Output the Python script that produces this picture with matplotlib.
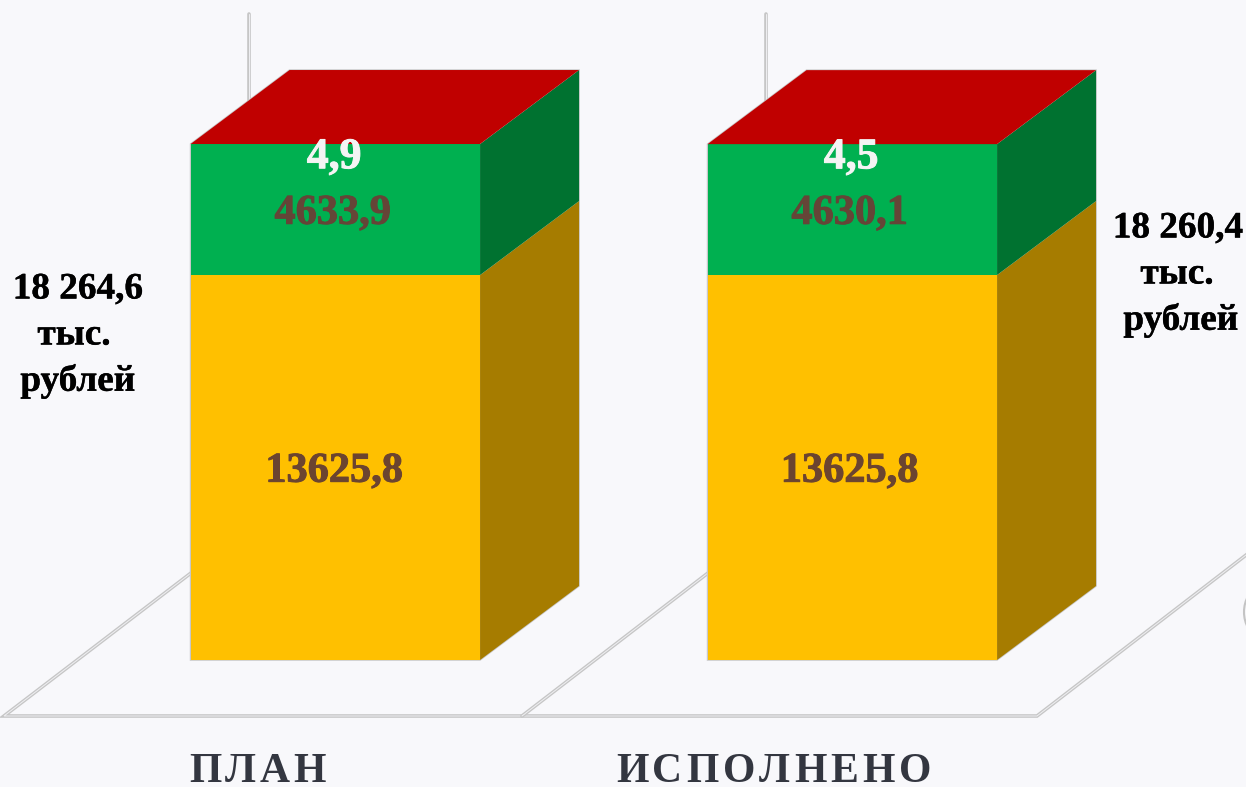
import matplotlib
matplotlib.use("Agg")
import matplotlib.pyplot as plt
import matplotlib.patheffects as pe
from matplotlib.patches import Polygon, Arc

# --- data ---
categories = ["ПЛАН", "ИСПОЛНЕНО"]
yellow_values = [13625.8, 13625.8]
green_values = [4633.9, 4630.1]
red_values = [4.9, 4.5]
yellow_labels = ["13625,8", "13625,8"]
green_labels = ["4633,9", "4630,1"]
red_labels = ["4,9", "4,5"]
total_labels = [["18 264,6", "тыс.", "рублей"], ["18 260,4", "тыс.", "рублей"]]

# --- style / layout ---
W, H = 1246, 787
BG = "#f8f8fb"
SERIF = "Liberation Serif"
BAR0_CX, STEP = 335.3, 517.0
BASE_Y, PX_PER_VALUE = 660.0, 0.02825
BAR_W = 289.5 / STEP
DX, DY = 99 / STEP, 74 / PX_PER_VALUE
FACES = [("#ffc000", "#a67c00"), ("#00b050", "#007230")]
TOP_COL = "#c00000"

fig = plt.figure(figsize=(W / 100, H / 100), dpi=100, facecolor=BG)

# pixel overlay for the floor, walls and captions
px = fig.add_axes([0, 0, 1, 1], zorder=1)
px.set_xlim(0, W)
px.set_ylim(H, 0)
px.axis("off")

# value axes for the bars
ax = fig.add_axes([0, 0, 1, 1], zorder=2)
ax.patch.set_alpha(0)
ax.set_xlim(-BAR0_CX / STEP, (W - BAR0_CX) / STEP)
ax.set_ylim(-(H - BASE_Y) / PX_PER_VALUE, BASE_Y / PX_PER_VALUE)
ax.axis("off")


def floor_line(xs, ys):
    px.plot(xs, ys, color="#c6c6c6", lw=2.6, solid_capstyle="round", solid_joinstyle="miter")
    px.plot(xs, ys, color="#efeff2", lw=0.7, solid_capstyle="round", solid_joinstyle="miter")


floor_line([249, 249], [14, 110])
floor_line([766, 766], [14, 110])
floor_line([191, 4, 1037, 1250], [573, 716, 716, 552])
floor_line([708, 522], [573, 716])
px.add_patch(Arc((1262, 612), 36, 50, theta1=130, theta2=230, color="#c4c4c4", lw=1.5))


def box(x, bottom, value, front, side):
    l, r = x - BAR_W / 2, x + BAR_W / 2
    top = bottom + value
    ax.add_patch(Polygon([(r, bottom), (r + DX, bottom + DY), (r + DX, top + DY), (r, top)],
                         closed=True, fc=side, ec="none", zorder=3))
    ax.add_patch(Polygon([(l, bottom), (r, bottom), (r, top), (l, top)],
                         closed=True, fc=front, ec="none", zorder=4))


def value_label(x, y, s, color, size=30.5, dy=-3):
    ax.annotate(s, (x, y), xytext=(0, dy), textcoords="offset points", color=color,
                family=SERIF, weight="bold", fontsize=size, ha="center", va="center",
                zorder=6, path_effects=[pe.withStroke(linewidth=0.7, foreground=color)])


for i, cat in enumerate(categories):
    y0, g0, r0 = yellow_values[i], green_values[i], red_values[i]
    total = y0 + g0 + r0
    l, r = i - BAR_W / 2, i + BAR_W / 2
    # thin grey rim around the silhouette
    rim = [(l, 0), (r, 0), (r + DX, DY), (r + DX, total + DY), (l + DX, total + DY), (l, total)]
    ax.add_patch(Polygon(rim, closed=True, fc="none", ec="#c8c8c8", lw=1.1, zorder=2))
    box(i, 0, y0, *FACES[0])
    box(i, y0, g0 + r0, *FACES[1])
    ax.add_patch(Polygon([(l, total), (r, total), (r + DX, total + DY), (l + DX, total + DY)],
                         closed=True, fc=TOP_COL, ec="none", zorder=5))

    value_label(i - 0.002 - 0.003 * i, y0 / 2, yellow_labels[i], "#6b4430")
    value_label(i - 0.005, y0 + g0 / 2, green_labels[i], "#654537")
    value_label(i - 0.002, total, red_labels[i], "#f4f4f4", size=31.5, dy=-9.5)

# totals beside the bars
TOTAL_X = [(78, 74, 78), (1178, 1177, 1181)]
TOTAL_Y = [(289, 335, 381), (228, 274, 320)]
for xs, ys, lines in zip(TOTAL_X, TOTAL_Y, total_labels):
    for x, y, txt in zip(xs, ys, lines):
        px.text(x, y, txt, family=SERIF, weight="bold", fontsize=26.8, color="black",
                ha="center", va="center", zorder=6,
                path_effects=[pe.withStroke(linewidth=0.3, foreground="black")])


def spaced(axis, text, x_left, baseline, spacing, **kw):
    """Write text letter by letter with extra tracking (axis in pixel units)."""
    r = fig.canvas.get_renderer()
    x = x_left
    for ch in text:
        t = axis.text(x, baseline, ch, ha="left", va="baseline", **kw)
        x += t.get_window_extent(r).width + spacing


cap = dict(family=SERIF, weight="bold", fontsize=30, color="#333640")
spaced(px, categories[0], 189, 782, 3.7, **cap)
spaced(px, categories[1], 616, 782, 3.95, **cap)

fig.savefig("out.png", dpi=100, facecolor=BG)
